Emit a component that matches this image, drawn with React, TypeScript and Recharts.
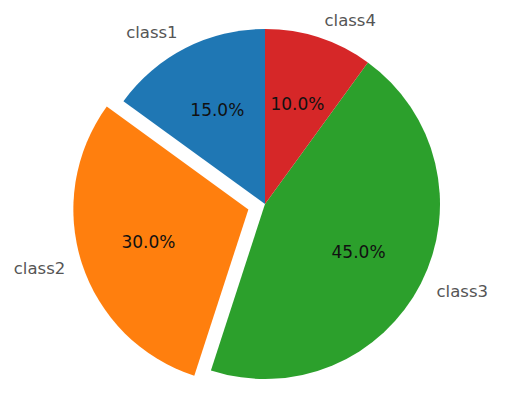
import React from "react";
import { Cell, Pie, PieChart } from "recharts";

// Pie of four classes, class2 pulled out from the centre (matplotlib style).

const classes = ["class1", "class2", "class3", "class4"];
const shares = [15, 30, 45, 10];
const colors = ["#1f77b4", "#ff7f0e", "#2ca02c", "#d62728"];
const explodedIndex = 1;

const data = classes.map((name, i) => ({ name, value: shares[i] }));

const CX = 265;
const CY = 204;
const R = 175;
const EXPLODE = 0.1;
const RAD = Math.PI / 180;
const FONT = "'DejaVu Sans', sans-serif";

// offset of the exploded wedge, along its mid angle
const total = shares.reduce((a, b) => a + b, 0);
const before = shares.slice(0, explodedIndex).reduce((a, b) => a + b, 0);
const midDeg = 90 + ((before + shares[explodedIndex] / 2) / total) * 360;
const dx = EXPLODE * R * Math.cos(midDeg * RAD);
const dy = -EXPLODE * R * Math.sin(midDeg * RAD);

function makeLabel(showIndex: (i: number) => boolean) {
  return (props: any) => {
    const { cx, cy, midAngle, outerRadius, index, percent } = props;
    if (!showIndex(index)) return null;
    const cos = Math.cos(-midAngle * RAD);
    const sin = Math.sin(-midAngle * RAD);
    const lx = cx + outerRadius * 1.1 * cos;
    const ly = cy + outerRadius * 1.1 * sin;
    const px = cx + outerRadius * 0.6 * cos;
    const py = cy + outerRadius * 0.6 * sin;
    return (
      <g key={`lbl-${index}`}>
        <text
          x={lx}
          y={ly}
          textAnchor={cos < 0 ? "end" : "start"}
          dominantBaseline="central"
          fill="#555"
          fontSize={16.5}
          fontFamily={FONT}
        >
          {classes[index]}
        </text>
        <text
          x={px}
          y={py}
          textAnchor="middle"
          dominantBaseline="central"
          fill="#111"
          fontSize={17}
          fontFamily={FONT}
        >
          {(percent * 100).toFixed(1)}%
        </text>
      </g>
    );
  };
}

export default function App() {
  return (
    <div style={{ position: "absolute", left: 0, top: 0, width: 515, height: 409, background: "#fff" }}>
      <PieChart width={515} height={409} margin={{ top: 0, right: 0, bottom: 0, left: 0 }}>
        <Pie
          data={data}
          dataKey="value"
          nameKey="name"
          cx={CX}
          cy={CY}
          outerRadius={R}
          startAngle={90}
          endAngle={450}
          stroke="none"
          labelLine={false}
          label={makeLabel((i) => i !== explodedIndex)}
          isAnimationActive={false}
        >
          {data.map((d, i) => (
            <Cell key={d.name} fill={i === explodedIndex ? "transparent" : colors[i]} />
          ))}
        </Pie>
        <Pie
          data={data}
          dataKey="value"
          nameKey="name"
          cx={CX + dx}
          cy={CY + dy}
          outerRadius={R}
          startAngle={90}
          endAngle={450}
          stroke="none"
          labelLine={false}
          label={makeLabel((i) => i === explodedIndex)}
          isAnimationActive={false}
        >
          {data.map((d, i) => (
            <Cell key={d.name} fill={i === explodedIndex ? colors[i] : "transparent"} />
          ))}
        </Pie>
      </PieChart>
    </div>
  );
}
